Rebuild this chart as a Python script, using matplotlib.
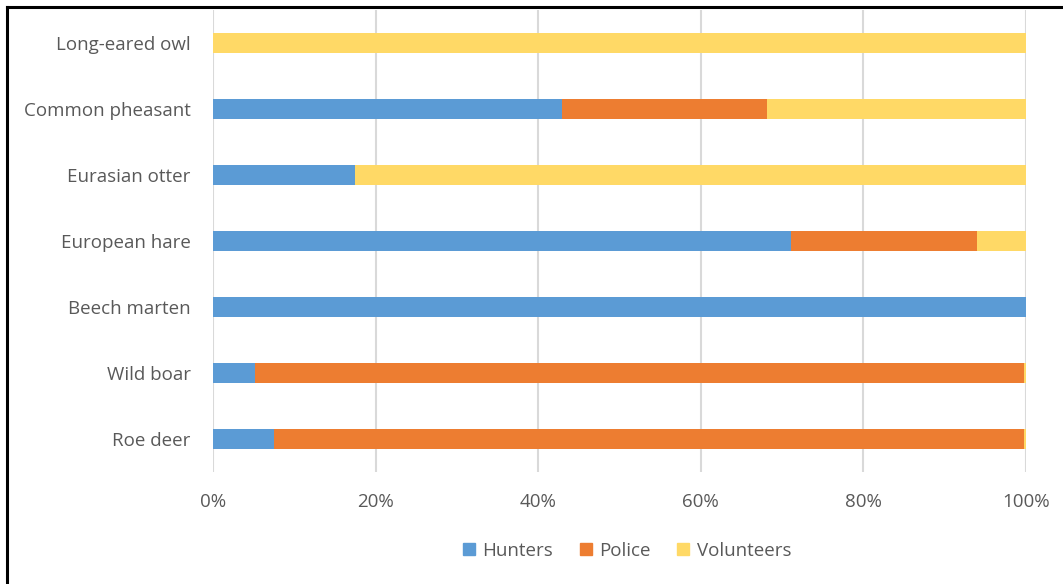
import matplotlib
matplotlib.use("Agg")
import matplotlib.pyplot as plt
from matplotlib.lines import Line2D
import numpy as np

# Share of records per species by reporting group (percent)
species = ["Roe deer", "Wild boar", "Beech marten", "European hare",
           "Eurasian otter", "Common pheasant", "Long-eared owl"]
hunters = [7.5, 5.2, 100.0, 71.1, 17.5, 42.9, 0.0]
police = [92.3, 94.6, 0.0, 22.9, 0.0, 25.2, 0.0]
volunteers = [0.2, 0.2, 0.0, 6.0, 82.5, 31.9, 100.0]

groups = ["Hunters", "Police", "Volunteers"]
colors = ["#5B9BD5", "#ED7D31", "#FFD966"]
xticks = [0, 20, 40, 60, 80, 100]

plt.rcParams["font.family"] = ["Open Sans", "DejaVu Sans"]

fig = plt.figure(figsize=(10.63, 5.84), dpi=100)
ax = fig.add_axes([213 / 1063, 1 - 472 / 584, 813 / 1063, 462 / 584])

y = np.arange(len(species))
left = np.zeros(len(species))
for vals, col, name in zip([hunters, police, volunteers], colors, groups):
    vals = np.array(vals)
    ax.barh(y, vals, left=left, height=0.3, color=col, label=name, zorder=3)
    left += vals

ax.set_xlim(0, 100)
ax.set_ylim(-0.5, len(species) - 0.5)
ax.set_xticks(xticks)
ax.set_xticklabels([f"{t}%" for t in xticks])
ax.set_yticks(y)
ax.set_yticklabels(species)
ax.tick_params(axis="both", length=0, labelsize=13.5, colors="#595959")
ax.tick_params(axis="y", pad=16)
ax.tick_params(axis="x", pad=15)
ax.grid(axis="x", color="#D9D9D9", linewidth=1.5, zorder=0)
for s in ax.spines.values():
    s.set_visible(False)

handles = [Line2D([0], [0], marker="s", linestyle="none", markersize=8,
                  markerfacecolor=c, markeredgecolor=c) for c in colors]
fig.legend(handles, groups, loc="center", bbox_to_anchor=(626 / 1063, 1 - 551 / 584),
           ncol=3, frameon=False, fontsize=13.5, labelcolor="#595959",
           handletextpad=0.25, columnspacing=1.3, handlelength=0.9)

# Outer frame along the top and left edges
fig.add_artist(Line2D([6.5 / 1063, 6.5 / 1063], [0, 1 - 7 / 584], color="black",
                      linewidth=2.2, transform=fig.transFigure))
fig.add_artist(Line2D([6.5 / 1063, 1], [1 - 7 / 584, 1 - 7 / 584], color="black",
                      linewidth=2.2, transform=fig.transFigure))

fig.savefig("out.png", dpi=100)
